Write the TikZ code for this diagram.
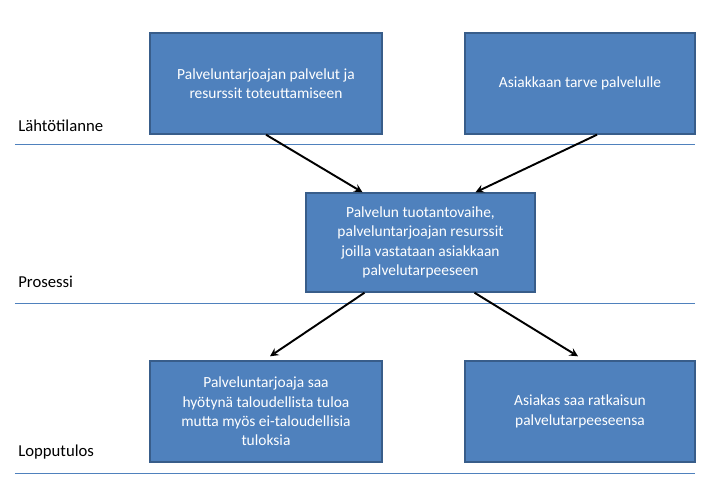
\documentclass[tikz,border=0pt]{standalone}
\usepackage{fontspec}
\setmainfont{Carlito}
\usetikzlibrary{calc}
\definecolor{boxfill}{HTML}{4F81BD}
\definecolor{boxline}{HTML}{385D8A}
\definecolor{rule}{HTML}{4F81BD}
\begin{document}
\begin{tikzpicture}[x=0.02cm,y=-0.02cm,
    stagebox/.style={draw=boxline, line width=0.8pt, fill=boxfill, text=white,
        align=center, inner sep=2pt, font=\fontsize{8.8}{11}\selectfont},
    stagelabel/.style={anchor=base west, inner sep=0pt, font=\fontsize{9.5}{11}\selectfont},
    flow/.style={-stealth, line width=1.1pt}]
\useasboundingbox (0,0) rectangle (708,494);
% rules
\foreach \yr in {144,303,473}
    \draw [rule, line width=0.5pt] (15,\yr) -- (695,\yr);
% stage labels
\node [stagelabel] (start)   at (18,131) {Lähtötilanne};
\node [stagelabel] (process) at (18,287) {Prosessi};
\node [stagelabel] (result)  at (18,456) {Lopputulos};
% boxes
\node [stagebox, minimum width=232*0.02cm, minimum height=101*0.02cm] (provider) at (266,83.5) {Palveluntarjoajan palvelut ja\\resurssit toteuttamiseen};
\node [stagebox, minimum width=230*0.02cm, minimum height=101*0.02cm] (need) at (580,83.5) {Asiakkaan tarve palvelulle};
\node [stagebox, minimum width=229*0.02cm, minimum height=99*0.02cm] (production) at (420.5,242.5) {Palvelun tuotantovaihe,\\palveluntarjoajan resurssit\\joilla vastataan asiakkaan\\palvelutarpeeseen};
\node [stagebox, minimum width=232*0.02cm, minimum height=101*0.02cm] (benefit) at (266,411.5) {Palveluntarjoaja saa\\hyötynä taloudellista tuloa\\mutta myös ei-taloudellisia\\tuloksia};
\node [stagebox, minimum width=230*0.02cm, minimum height=101*0.02cm] (solution) at (580,411.5) {Asiakas saa ratkaisun\\palvelutarpeeseensa};
% arrows
\draw [flow] (provider.south) -- ($(production.north)+(-58,0)$);
\draw [flow] ($(need.south)+(17,0)$) -- ($(production.north)+(55,0)$);
\draw [flow] ($(production.south)+(-56,0)$) -- ($(benefit.north)+(4,-4)$);
\draw [flow] ($(production.south)+(54,0)$) -- ($(solution.north)+(-2,-4)$);
\end{tikzpicture}
\end{document}
